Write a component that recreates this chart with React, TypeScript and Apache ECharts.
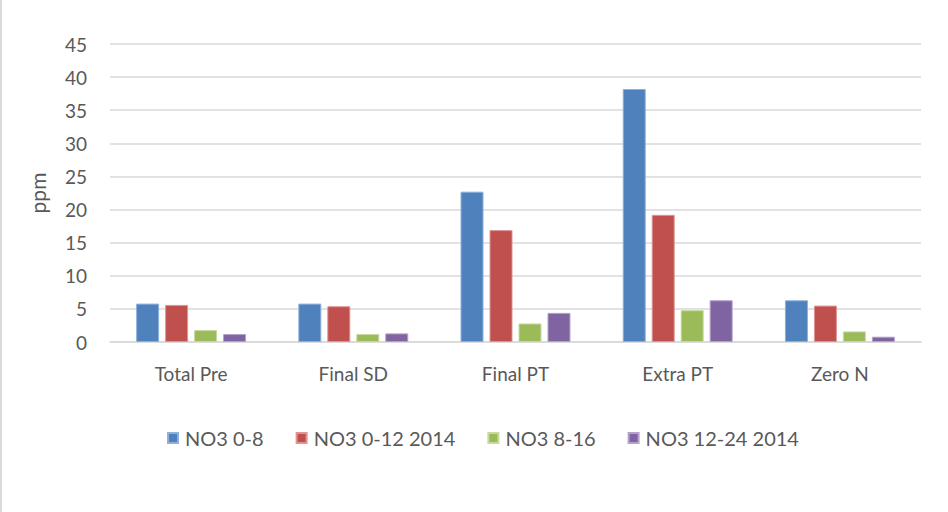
import React, { useEffect, useRef } from "react";
import * as echarts from "echarts";

const categories = ["Total Pre", "Final SD", "Final PT", "Extra PT", "Zero N"];
const seriesNames = ["NO3 0-8", "NO3 0-12 2014", "NO3 8-16", "NO3 12-24 2014"];
const no3_0_8 = [5.8, 5.8, 22.7, 38.2, 6.3];
const no3_0_12_2014 = [5.6, 5.4, 16.9, 19.2, 5.5];
const no3_8_16 = [1.8, 1.2, 2.8, 4.8, 1.6];
const no3_12_24_2014 = [1.2, 1.3, 4.4, 6.3, 0.8];

const colors = ["#4F81BD", "#C0504D", "#9BBB59", "#8064A2"];
const edgeColors = ["#8FB0DA", "#DE9593", "#C6DAA0", "#B4A2CB"];

const FONT = "Lato, 'Open Sans', sans-serif";
const TEXT = "#595959";

export default function App() {
  const ref = useRef<HTMLDivElement>(null);

  useEffect(() => {
    if (!ref.current) return;
    const chart = echarts.init(ref.current, undefined, { renderer: "svg" });
    const values = [no3_0_8, no3_0_12_2014, no3_8_16, no3_12_24_2014];
    chart.setOption({
      animation: false,
      backgroundColor: "#ffffff",
      textStyle: { fontFamily: FONT },
      graphic: [
        {
          type: "rect",
          left: 0,
          top: 0,
          shape: { x: 0, y: 0, width: 2, height: 512 },
          style: { fill: "#d9d9d9" },
          silent: true,
        },
      ],
      grid: { left: 110, right: 27, top: 44, bottom: 170 },
      legend: {
        left: 162,
        top: 423,
        itemWidth: 10,
        itemHeight: 10,
        itemGap: 32,
        icon: "rect",
        data: seriesNames,
        textStyle: { color: TEXT, fontSize: 20, fontFamily: FONT, padding: [0, 0, 0, 2] },
      },
      xAxis: {
        type: "category",
        data: categories,
        axisLine: { lineStyle: { color: "#d9d9d9", width: 1.5 } },
        axisTick: { show: false },
        axisLabel: { color: TEXT, fontSize: 19, fontFamily: FONT, margin: 22 },
      },
      yAxis: {
        type: "value",
        min: 0,
        max: 45,
        interval: 5,
        name: "ppm",
        nameLocation: "middle",
        nameGap: 62,
        nameRotate: 90,
        nameTextStyle: { color: TEXT, fontSize: 21, fontFamily: FONT },
        axisLine: { show: false },
        axisTick: { show: false },
        axisLabel: { color: TEXT, fontSize: 19, fontFamily: FONT, margin: 23 },
        splitLine: { lineStyle: { color: "#d9d9d9", width: 1.5 } },
      },
      series: seriesNames.map((name, i) => ({
        name,
        type: "bar",
        data: values[i],
        barWidth: 23,
        barGap: "26%",
        itemStyle: { color: colors[i], borderColor: edgeColors[i], borderWidth: 1 },
      })),
    });
    return () => chart.dispose();
  }, []);

  return (
    <div
      ref={ref}
      style={{ position: "absolute", left: 0, top: 0, width: 948, height: 512 }}
    />
  );
}
